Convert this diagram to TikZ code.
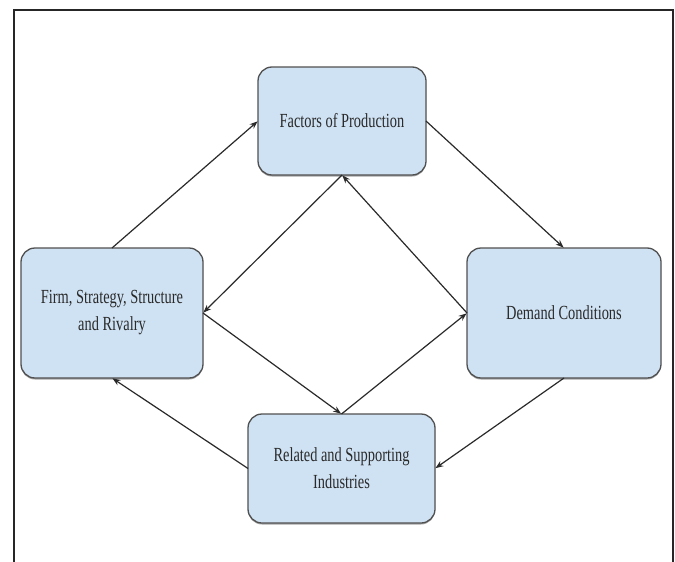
\documentclass[tikz,border=0pt]{standalone}
\usepackage{fontspec}
\setmainfont{Liberation Serif}[FakeStretch=0.72]
\usetikzlibrary{arrows.meta,shadows}
\definecolor{boxfill}{HTML}{CFE2F3}
\definecolor{boxline}{HTML}{505050}
\definecolor{txt}{HTML}{2A2A2A}
\definecolor{arr}{HTML}{2A2A2A}
\begin{document}
\begin{tikzpicture}[x=1pt,y=-1pt,
  box/.style={draw=boxline,line width=1.3pt,fill=boxfill,rounded corners=14pt,
    inner sep=0pt,outer sep=0pt,align=center,text=txt,
    font=\fontsize{20}{27}\selectfont,
    drop shadow={shadow xshift=0pt,shadow yshift=-1.5pt,opacity=0.35,fill=black}},
  conn/.style={draw=arr,line width=1.2pt,-{Stealth[length=8pt,width=6pt]},shorten >=0.5pt}]
\useasboundingbox (0,0) rectangle (675,562);
\fill[white] (0,0) rectangle (675,562);
% frame
\draw[line width=1.5pt,draw=black!85] (14,562) -- (14,10) -- (673,10) -- (673,562);
% boxes
\node[box,minimum width=168pt,minimum height=108pt] (factors) at (342,121) {Factors of Production};
\node[box,minimum width=182pt,minimum height=130pt] (firm) at (112,313) {Firm, Strategy, Structure\\and Rivalry};
\node[box,minimum width=194pt,minimum height=130pt] (demand) at (564,313) {Demand Conditions};
\node[box,minimum width=187pt,minimum height=109pt] (related) at (341.5,468.5) {Related and Supporting\\Industries};
% outer cycle
\draw[conn] (firm.north) -- (factors.west);
\draw[conn] (factors.east) -- (demand.north);
\draw[conn] (demand.south) -- (related.east);
\draw[conn] (related.west) -- (firm.south);
% inner diamond
\draw[conn] (factors.south) -- (firm.east);
\draw[conn] (firm.east) -- (related.north);
\draw[conn] (related.north) -- (demand.west);
\draw[conn] (demand.west) -- (factors.south);
\end{tikzpicture}
\end{document}
